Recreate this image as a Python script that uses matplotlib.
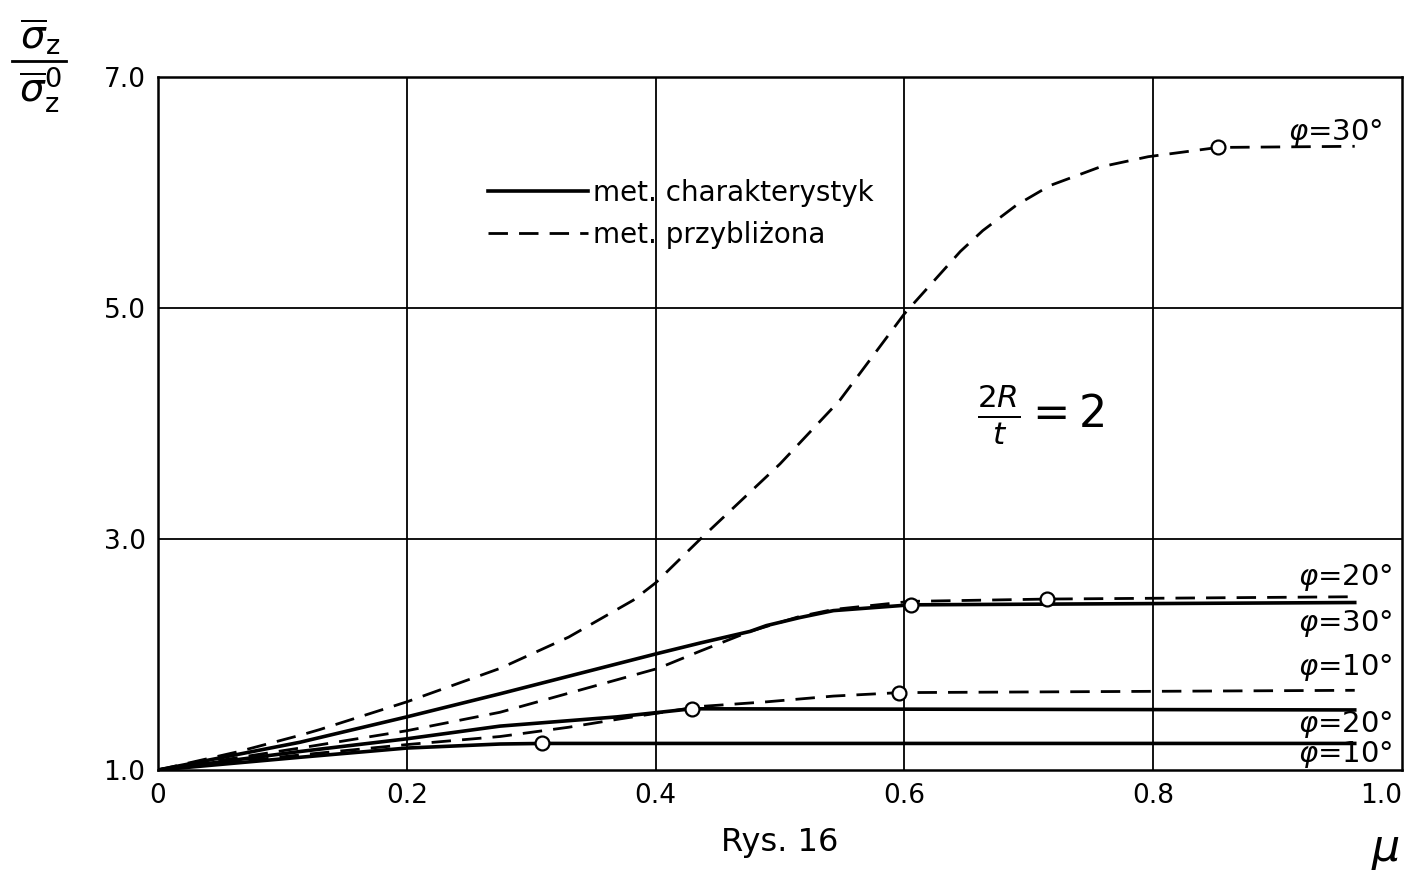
import matplotlib
matplotlib.use("Agg")
import matplotlib.pyplot as plt
from matplotlib.lines import Line2D

# ---- data ----
# approximate method (dashed)
x_ap30 = [0.0, 0.065, 0.114, 0.13, 0.2, 0.275, 0.33, 0.382, 0.4, 0.436, 0.5, 0.548, 0.6, 0.645, 0.663, 0.69, 0.717, 0.757, 0.796, 0.852, 0.962]
y_ap30 = [1.0, 1.16, 1.30, 1.35, 1.59, 1.88, 2.15, 2.47, 2.62, 3.0, 3.65, 4.20, 4.95, 5.49, 5.67, 5.89, 6.06, 6.22, 6.31, 6.39, 6.40]

x_ap20 = [0.0, 0.114, 0.2, 0.275, 0.402, 0.436, 0.476, 0.516, 0.543, 0.605, 0.715, 0.962]
y_ap20 = [1.0, 1.19, 1.34, 1.50, 1.88, 2.03, 2.20, 2.33, 2.39, 2.46, 2.48, 2.50]

x_ap10 = [0.0, 0.114, 0.2, 0.275, 0.33, 0.37, 0.436, 0.489, 0.543, 0.596, 0.962]
y_ap10 = [1.0, 1.13, 1.22, 1.29, 1.37, 1.44, 1.55, 1.59, 1.64, 1.67, 1.69]

# method of characteristics (solid)
x_ch30 = [0.0, 0.114, 0.2, 0.275, 0.402, 0.436, 0.476, 0.489, 0.516, 0.543, 0.605, 0.962]
y_ch30 = [1.0, 1.24, 1.46, 1.66, 2.01, 2.10, 2.20, 2.25, 2.32, 2.38, 2.43, 2.45]

x_ch20 = [0.0, 0.114, 0.2, 0.275, 0.369, 0.429, 0.962]
y_ch20 = [1.0, 1.16, 1.27, 1.38, 1.46, 1.53, 1.52]

x_ch10 = [0.0, 0.114, 0.2, 0.275, 0.309, 0.962]
y_ch10 = [1.0, 1.11, 1.19, 1.225, 1.23, 1.23]

# circle markers
x_marks = [0.852, 0.715, 0.605, 0.596, 0.429, 0.309]
y_marks = [6.39, 2.48, 2.43, 1.67, 1.53, 1.23]

# curve labels
lab_text = [r"$\varphi$=30°", r"$\varphi$=20°", r"$\varphi$=30°", r"$\varphi$=10°", r"$\varphi$=20°", r"$\varphi$=10°"]
lab_x = [0.946, 0.954, 0.954, 0.954, 0.954, 0.954]
lab_y = [6.52, 2.67, 2.27, 1.89, 1.39, 1.13]

x_ticks = [0, 0.2, 0.4, 0.6, 0.8, 1.0]
x_ticklabels = ["0", "0.2", "0.4", "0.6", "0.8", "1.0"]
y_ticks = [1.0, 3.0, 5.0, 7.0]
y_ticklabels = ["1.0", "3.0", "5.0", "7.0"]

legend_labels = ["met. charakterystyk", "met. przybliżona"]

# ---- figure ----
fig = plt.figure(figsize=(14.2, 8.8), dpi=100)
ax = fig.add_axes([158 / 1420, 1 - 770 / 880, 1244 / 1420, 693 / 880])

ax.set_xlim(0, 1.0)
ax.set_ylim(1.0, 7.0)
ax.set_xticks(x_ticks)
ax.set_xticklabels(x_ticklabels)
ax.set_yticks(y_ticks)
ax.set_yticklabels(y_ticklabels)
ax.tick_params(length=0, labelsize=19, pad=9)
xl = ax.get_xticklabels()
xl[-1].set_horizontalalignment("right")
for s in ax.spines.values():
    s.set_linewidth(1.8)
    s.set_color("black")

for xv in x_ticks[1:-1]:
    ax.axvline(xv, color="black", lw=1.3, zorder=1)
for yv in y_ticks[1:-1]:
    ax.axhline(yv, color="black", lw=1.3, zorder=1)

dash = (7, 4)
lw_d = 2.0
lw_s = 2.6
for xs, ys in [(x_ap30, y_ap30), (x_ap20, y_ap20), (x_ap10, y_ap10)]:
    ax.plot(xs, ys, color="black", lw=lw_d, ls=(0, dash), zorder=3)
for xs, ys in [(x_ch30, y_ch30), (x_ch20, y_ch20), (x_ch10, y_ch10)]:
    ax.plot(xs, ys, color="black", lw=lw_s, zorder=3)

ax.plot(x_marks, y_marks, ls="none", marker="o", ms=10, mfc="white", mec="black", mew=1.6, zorder=5)

for t, xv, yv in zip(lab_text, lab_x, lab_y):
    ax.text(xv, yv, t, ha="center", va="center", fontsize=21)

ax.text(0.71, 4.07, r"$\frac{2R}{t}=2$", fontsize=32, ha="center", va="center")

handles = [Line2D([], [], color="black", lw=lw_s),
           Line2D([], [], color="black", lw=lw_d, ls=(0, dash))]
ax.legend(handles, legend_labels, loc="upper left", bbox_to_anchor=(0.265, 0.853),
          frameon=False, fontsize=20, handlelength=3.6, handletextpad=0.2,
          labelspacing=0.5, borderpad=0, borderaxespad=0)

fig.text(780 / 1420, 1 - 842 / 880, "Rys. 16", fontsize=23, ha="center", va="center")
fig.text(1385 / 1420, 1 - 850 / 880, r"$\mu$", fontsize=32, ha="center", va="center")

# y-axis label as a stacked fraction
fig.text(40 / 1420, 1 - 57 / 880, r"$\overline{\sigma}_\mathrm{z}$", fontsize=28, ha="center", va="bottom")
fig.text(40 / 1420, 1 - 65 / 880, r"$\overline{\sigma}_\mathrm{z}^{0}$", fontsize=28, ha="center", va="top")
fig.add_artist(Line2D([12 / 1420, 66 / 1420], [1 - 61 / 880, 1 - 61 / 880], color="black", lw=2))

fig.savefig("out.png", dpi=100)
